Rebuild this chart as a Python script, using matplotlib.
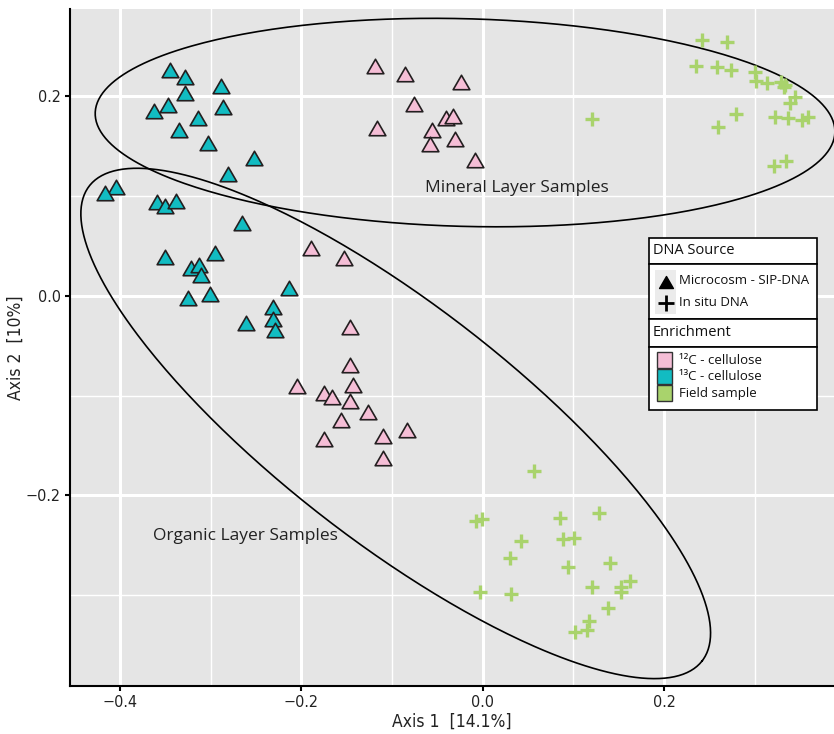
import numpy as np
import matplotlib
matplotlib.use("Agg")
import matplotlib.pyplot as plt
from matplotlib import font_manager
from matplotlib.path import Path
from matplotlib.patches import Rectangle

# sample scores
cyan_x = [-0.345, -0.328, -0.289, -0.328, -0.347, -0.363, -0.286, -0.314, -0.335, -0.303,
          -0.252, -0.281, -0.405, -0.417, -0.359, -0.350, -0.338, -0.266, -0.350, -0.295,
          -0.322, -0.313, -0.311, -0.214, -0.325, -0.301, -0.231, -0.231, -0.229, -0.261]
cyan_y = [0.226, 0.219, 0.210, 0.203, 0.191, 0.185, 0.189, 0.178, 0.166, 0.153,
          0.138, 0.122, 0.109, 0.103, 0.094, 0.090, 0.095, 0.073, 0.039, 0.043,
          0.028, 0.031, 0.021, 0.008, -0.002, 0.002, -0.011, -0.023, -0.034, -0.027]

pink_x = [-0.119, -0.086, -0.024, -0.076, -0.041, -0.033, -0.117, -0.056, -0.058, -0.031,
          -0.009, -0.189, -0.153, -0.146, -0.146, -0.205, -0.143, -0.175, -0.166, -0.146,
          -0.127, -0.156, -0.084, -0.175, -0.110, -0.110]
pink_y = [0.230, 0.222, 0.214, 0.192, 0.178, 0.180, 0.168, 0.166, 0.152, 0.157,
          0.136, 0.048, 0.038, -0.031, -0.069, -0.090, -0.089, -0.097, -0.102, -0.106,
          -0.117, -0.125, -0.135, -0.144, -0.141, -0.163]

field_x = [0.242, 0.270, 0.235, 0.258, 0.274, 0.300, 0.302, 0.314, 0.329, 0.333,
           0.332, 0.345, 0.339, 0.279, 0.121, 0.322, 0.337, 0.352, 0.359, 0.259,
           0.321, 0.334,
           0.057, -0.007, -0.001, 0.085, 0.128, 0.042, 0.089, 0.101, 0.030, 0.094,
           0.140, -0.003, 0.031, 0.121, 0.152, 0.162, 0.152, 0.138, 0.117, 0.115, 0.102]
field_y = [0.256, 0.254, 0.230, 0.229, 0.226, 0.224, 0.215, 0.213, 0.214, 0.211,
           0.209, 0.199, 0.193, 0.182, 0.177, 0.179, 0.178, 0.176, 0.179, 0.169,
           0.130, 0.135,
           -0.176, -0.226, -0.224, -0.223, -0.218, -0.246, -0.244, -0.243, -0.263, -0.272,
           -0.268, -0.297, -0.299, -0.292, -0.292, -0.286, -0.297, -0.313, -0.326, -0.335, -0.337]

# ellipses: centre and two semi-axis vectors (data units)
mineral_ell = dict(c=(-0.0195, 0.1735), u=(0.408, -0.0097), v=(-0.003, -0.104))
organic_ell = dict(c=(-0.0960, -0.1280), u=(0.338, -0.238), v=(-0.080, -0.0935))

x_ticks = [-0.4, -0.2, 0.0, 0.2]
y_ticks = [-0.2, 0.0, 0.2]

CYAN = "#12BCC2"
PINK = "#F5BED6"
GREEN = "#A9D36C"
EDGE = "#231F20"
TXT = ["Open Sans", "DejaVu Sans"]

# pick a narrow face for the axis text if one is installed
fonts = font_manager.fontManager.ttflist
names = {f.name for f in fonts}
if "Liberation Sans Narrow" in names:
    NARROW = dict(family=["Liberation Sans Narrow", "DejaVu Sans"])
elif any(f.name == "DejaVu Sans" and f.stretch == "condensed" for f in fonts):
    NARROW = dict(family=["DejaVu Sans"], fontstretch="condensed")
else:
    NARROW = dict(family=["Roboto", "DejaVu Sans"])

tri = Path([(0, 0.5), (-0.577, -0.5), (0.577, -0.5), (0, 0.5)],
           [Path.MOVETO, Path.LINETO, Path.LINETO, Path.CLOSEPOLY])

fig = plt.figure(figsize=(8.34, 7.34), dpi=100)
ax = fig.add_axes([70 / 834, (734 - 686) / 734, (834 - 70) / 834, (686 - 9) / 734])
ax.set_facecolor("#E5E5E5")
ax.set_xlim(-0.4553, 0.3875)
ax.set_ylim(-0.3911, 0.2873)

ax.set_xticks(x_ticks)
ax.set_yticks(y_ticks)
ax.set_xticks([-0.3, -0.1, 0.1, 0.3], minor=True)
ax.set_yticks([-0.3, -0.1, 0.1], minor=True)
ax.grid(which="major", color="white", lw=2.2)
ax.grid(which="minor", color="white", lw=1.0)
ax.set_axisbelow(True)
for s in ["top", "right"]:
    ax.spines[s].set_visible(False)
for s in ["left", "bottom"]:
    ax.spines[s].set_linewidth(1.5)
    ax.spines[s].set_color("black")
ax.tick_params(which="major", length=3.5, width=1.5, color="black", labelsize=11.5, pad=3)
ax.tick_params(which="minor", length=0)
ax.set_xticklabels(["\u22120.4", "\u22120.2", "0.0", "0.2"], color="#222222", **NARROW)
ax.set_yticklabels(["\u22120.2", "0.0", "0.2"], color="#222222", **NARROW)
ax.set_xlabel("Axis 1  [14.1%]", fontsize=12.5, labelpad=2, color="#222222", **NARROW)
ax.set_ylabel("Axis 2  [10%]", fontsize=12.5, labelpad=1, color="#222222", **NARROW)

t = np.linspace(0, 2 * np.pi, 400)
for e in [mineral_ell, organic_ell]:
    ex = e["c"][0] + e["u"][0] * np.cos(t) + e["v"][0] * np.sin(t)
    ey = e["c"][1] + e["u"][1] * np.cos(t) + e["v"][1] * np.sin(t)
    ax.plot(ex, ey, color="black", lw=1.2, zorder=2)

ax.plot(field_x, field_y, ls="none", marker="+", ms=10.5, mew=2.4, color=GREEN, zorder=3)
ax.plot(cyan_x, cyan_y, ls="none", marker=tri, ms=12, mfc=CYAN, mec=EDGE, mew=1.2, zorder=4)
ax.plot(pink_x, pink_y, ls="none", marker=tri, ms=12, mfc=PINK, mec=EDGE, mew=1.2, zorder=4)

ax.text(-0.0637, 0.108, "Mineral Layer Samples", family=TXT, fontsize=12.5, va="center", color="#222222")
ax.text(-0.3637, -0.241, "Organic Layer Samples", family=TXT, fontsize=12.5, va="center", color="#222222")

# legend built in pixel coordinates
lg = fig.add_axes([0, 0, 1, 1], zorder=10)
lg.set_xlim(0, 834)
lg.set_ylim(734, 0)
lg.axis("off")
L, R = 649, 817
for y0, y1 in [(238, 264), (264, 319), (319, 347), (347, 410)]:
    lg.add_patch(Rectangle((L, y0), R - L, y1 - y0, facecolor="white", edgecolor="black", lw=1.2))
lg.text(653, 251, "DNA Source", family=TXT, fontsize=10.5, va="center", color="#111111")
lg.text(653, 333, "Enrichment", family=TXT, fontsize=10.5, va="center", color="#111111")
for y0 in [270, 292]:
    lg.add_patch(Rectangle((655, y0), 21, 22, facecolor="#EBEBEB", edgecolor="none"))
lg.plot([666], [281.5], ls="none", marker=tri, ms=10, mfc="black", mec="black")
lg.plot([666], [303], ls="none", marker="+", ms=11, mew=2.0, color="black")
lg.text(679, 281, "Microcosm - SIP-DNA", family=TXT, fontsize=9.5, va="center", color="#111111")
lg.text(679, 302, "In situ DNA", family=TXT, fontsize=9.5, va="center", color="#111111")
for y0, col, lab in [(352, PINK, "\u00b9\u00b2C - cellulose"),
                     (368.5, CYAN, "\u00b9\u00b3C - cellulose"),
                     (385, GREEN, "Field sample")]:
    lg.add_patch(Rectangle((657, y0), 15, 15.5, facecolor=col, edgecolor="#333333", lw=1.0))
    lg.text(679, y0 + 8, lab, family=TXT, fontsize=9.5, va="center", color="#111111")

fig.savefig("out.png", dpi=100)
